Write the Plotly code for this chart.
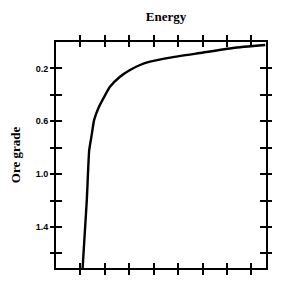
import plotly.graph_objects as go

# Data
energy = [1.09, 1.26, 1.36, 1.46, 1.56, 1.73, 1.94, 2.21, 2.62, 3.03, 3.44, 3.85, 4.74, 5.90, 7.25, 8.57]
ore_grade = [1.71, 1.20, 0.819, 0.705, 0.591, 0.503, 0.427, 0.339, 0.263, 0.212, 0.174, 0.149,
             0.116, 0.083, 0.045, 0.023]

x_ticks = [1, 2, 3, 4, 5, 6, 7, 8]
y_ticks = [0.2, 0.4, 0.6, 0.8, 1.0, 1.2, 1.4, 1.6]
y_tick_labels = ["0.2", "", "0.6", "", "1.0", "", "1.4", ""]

X_RANGE = [0, 8.6]
Y_RANGE = [1.71, 0]

fig = go.Figure()
fig.add_trace(go.Scatter(x=energy, y=ore_grade, mode="lines",
                         line=dict(color="black", width=2.4, shape="spline", smoothing=0.5),
                         hoverinfo="skip", showlegend=False))
fig.add_trace(go.Scatter(x=energy, y=ore_grade, mode="lines", xaxis="x2", yaxis="y2",
                         line=dict(color="rgba(0,0,0,0)", width=0),
                         hoverinfo="skip", showlegend=False))

tickfont = dict(family="Liberation Sans", size=9, color="black", weight="bold")
serif = dict(family="Liberation Serif", size=13, color="black", weight="bold")

fig.update_layout(
    width=293, height=297,
    margin=dict(l=56, r=27, t=42, b=29),
    paper_bgcolor="white", plot_bgcolor="white",
    title=dict(text="Energy", x=166 / 293, xanchor="center",
               y=1 - 16 / 297, yanchor="middle", font=serif),
    xaxis=dict(range=X_RANGE, tickvals=x_ticks, showticklabels=False,
               ticks="outside", ticklen=5, tickwidth=1.5, tickcolor="black",
               showline=True, linewidth=2, linecolor="black", mirror="ticks",
               showgrid=False, zeroline=False),
    yaxis=dict(range=Y_RANGE, tickvals=y_ticks, ticktext=y_tick_labels,
               ticks="outside", ticklen=4, tickwidth=1.5, tickcolor="black",
               showline=True, linewidth=2, linecolor="black", mirror="ticks",
               showgrid=False, zeroline=False, tickfont=tickfont,
               title=dict(text="Ore grade", standoff=12, font=serif)),
    xaxis2=dict(range=X_RANGE, overlaying="x", anchor="y2", side="bottom",
                tickvals=x_ticks, showticklabels=False,
                ticks="inside", ticklen=5, tickwidth=1.5, tickcolor="black",
                showline=False, mirror="ticks", showgrid=False, zeroline=False),
    yaxis2=dict(range=Y_RANGE, overlaying="y", anchor="x2", side="left",
                tickvals=y_ticks, showticklabels=False,
                ticks="inside", ticklen=6, tickwidth=1.5, tickcolor="black",
                showline=False, mirror="ticks", showgrid=False, zeroline=False),
)

fig.write_html("out.html")
